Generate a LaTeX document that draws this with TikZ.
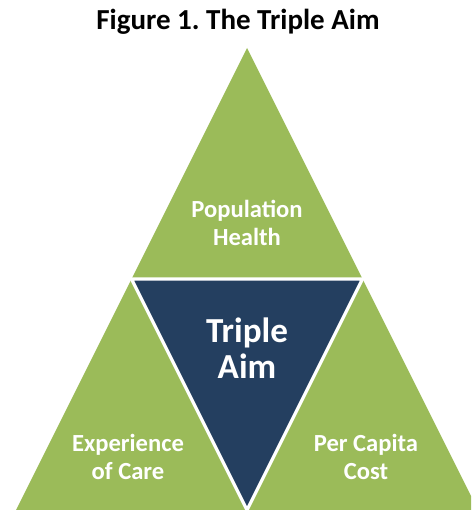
\documentclass[tikz,border=0pt]{standalone}
\usepackage{fontspec}
\setmainfont{Carlito}
\usetikzlibrary{positioning, calc}
\definecolor{aimgreen}{HTML}{9BBB59}
\definecolor{aimblue}{HTML}{243F60}
\frenchspacing

\begin{document}
\begin{tikzpicture}[x=0.02cm, y=-0.02cm,
        aimlabel/.style={text=white, font=\fontsize{14}{15.6}\selectfont\bfseries, align=center},
        centerlabel/.style={text=white, font=\fontsize{20}{20.5}\selectfont\bfseries, align=center},
      ]
        \useasboundingbox (0,0) rectangle (471,510);
        \clip (0,0) rectangle (471,510);

        % title
        \node[font=\fontsize{16.5}{18}\selectfont\bfseries] (title) at (238,22) {Figure 1. The Triple Aim};

        % outer triangle
        \coordinate (apex) at (247,48);
        \coordinate (baseL) at (16,510);
        \coordinate (baseR) at (478,510);
        \fill[aimgreen] (apex) -- (baseL) -- (baseR) -- cycle;

        % inner triangle
        \coordinate (midL) at ($(apex)!0.5!(baseL)$);
        \coordinate (midR) at ($(apex)!0.5!(baseR)$);
        \coordinate (tip) at ($(baseL)!0.5!(baseR)$);
        \filldraw[aimblue, draw=white, line width=1.8pt, line join=miter]
          (midL) -- (midR) -- (tip) -- cycle;

        % labels
        \node[aimlabel] (pop) at (247,223) {Population\\Health};
        \node[centerlabel] (aim) at (247,348) {Triple\\Aim};
        \node[aimlabel] (exp) at (128,457) {Experience\\of Care};
        \node[aimlabel] (cost) at (366,457) {Per Capita\\Cost};
      \end{tikzpicture}
\end{document}
